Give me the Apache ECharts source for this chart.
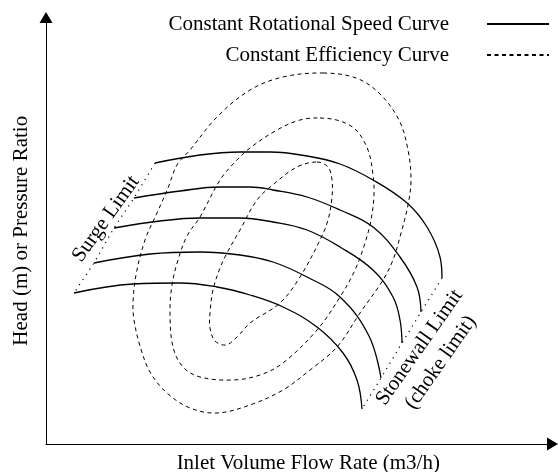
<!DOCTYPE html>
<html><head><meta charset="utf-8">
<script src="https://cdn.jsdelivr.net/npm/echarts@6/dist/echarts.min.js"></script>
<style>html,body{margin:0;padding:0;background:#fff}#c{width:558px;height:472px}</style>
</head><body><div id="c"></div>
<script>
// ---- data (x: inlet volume flow, y: head; schematic units) ----
const legendNames = ['Constant Rotational Speed Curve', 'Constant Efficiency Curve'];
const xTitle = 'Inlet Volume Flow Rate (m3/h)';
const yTitle = 'Head (m) or Pressure Ratio';
const surgeLabel = 'Surge Limit';
const stonewallLabel = 'Stonewall Limit\n(choke limit)';

const speed1 = [[109,281],[154,289],[194,292],[224,292],[261,288],[294,280],[327,264],[361,241],[381,217],[394,187],[396,166]];
const speed2 = [[88,246],[134,253],[174,257],[204,257],[227,254],[261,247],[294,234],[327,217],[354,187],[371,157],[375,132]];
const speed3 = [[68,216],[114,223],[154,226],[194,226],[227,222],[261,214],[294,197],[327,174],[347,147],[354,124],[356,101]];
const speed4 = [[48,181],[104,190],[154,192],[194,189],[227,182],[261,167],[294,147],[323,108],[335,66]];
const speed5 = [[28,151],[87,160],[134,161],[171,157],[204,149],[237,137],[271,117],[297,91],[311,64],[316,35]];

const effOuter = [[277,371],[310,366],[333,351],[353,324],[362,294],[365,264],[362,239],[354,207],[347,184],[337,164],[314,131],[291,97],[264,74],[237,54],[204,39],[171,31],[144,36],[121,51],[104,72],[94,98],[88,124],[87,141],[90,169],[99,204],[111,231],[122,256],[131,279],[144,294],[171,327],[204,354],[237,367]];
const effMiddle = [[274,326],[294,323],[310,314],[322,294],[327,269],[328,249],[325,224],[319,201],[309,174],[294,147],[271,114],[237,81],[214,69],[187,64],[154,67],[137,77],[127,97],[124,131],[126,159],[132,184],[141,208],[154,227],[174,264],[189,282],[204,296],[231,314],[254,324]];
const effInner = [[271,282],[282,277],[286,264],[286,247],[282,224],[274,204],[254,167],[234,141],[204,121],[191,107],[180,99],[169,103],[164,116],[164,131],[167,154],[174,176],[181,191],[194,214],[211,244],[229,261],[251,277]];

const speedCurves = [speed1, speed2, speed3, speed4, speed5];
const effLoops = [effOuter, effMiddle, effInner];

// ---- chart ----
const FONT = '"Liberation Serif", "Times New Roman", serif';
const chart = echarts.init(document.getElementById('c'), null, {renderer: 'canvas'});
const surgeLine = speedCurves.map(c => c[0]);
const stonewallLine = speedCurves.map(c => c[c.length - 1]);

const series = speedCurves.map(c => ({
  type: 'line', name: legendNames[0], data: c, smooth: 0.4, symbol: 'none',
  itemStyle: {color: '#000', opacity: 0},
  lineStyle: {color: '#000', width: 1.3}, silent: true
}));
series.push({
  type: 'line', name: legendNames[1], data: [], symbol: 'none',
  itemStyle: {color: '#000', opacity: 0},
  lineStyle: {color: '#000', width: 1, type: [4, 3.5]}
});
series.push({
  type: 'custom', coordinateSystem: 'cartesian2d', silent: true,
  data: effLoops.map(l => l[0]),
  renderItem: function (params, api) {
    const pts = effLoops[params.dataIndex].map(p => api.coord(p));
    return {type: 'polygon', shape: {points: pts, smooth: 0.35},
      style: {fill: 'none', stroke: '#000', lineWidth: 1, lineDash: [4, 3.5]}};
  }
});
series.push({type: 'line', data: surgeLine, symbol: 'none', silent: true,
  lineStyle: {color: '#000', width: 1.2, type: [1.2, 5]}});
series.push({type: 'line', data: stonewallLine, symbol: 'none', silent: true,
  lineStyle: {color: '#000', width: 1.2, type: [1.2, 5]}});

chart.setOption({
  animation: false,
  grid: {left: 46, right: 5.5, top: 17.5, bottom: 28, containLabel: false, outerBoundsMode: 'none'},
  legend: {
    data: legendNames, orient: 'vertical', align: 'right', right: 3, top: 8,
    itemWidth: 62, itemHeight: 12, itemGap: 9, selectedMode: false,
    itemStyle: {opacity: 0},
    textStyle: {fontFamily: FONT, fontSize: 21, color: '#000', lineHeight: 22, padding: [0, 33, 0, 0]}
  },
  xAxis: {
    type: 'value', min: 0, max: 506.5,
    name: xTitle, nameLocation: 'middle', nameGap: 8.5,
    nameTextStyle: {fontFamily: FONT, fontSize: 21, color: '#000', verticalAlign: 'top', padding: [0, 0, 0, 18]},
    axisLine: {lineStyle: {color: '#000', width: 1}, symbol: ['none', 'triangle'], symbolSize: [13, 11]},
    axisTick: {show: false}, axisLabel: {show: false}, splitLine: {show: false}
  },
  yAxis: {
    type: 'value', min: 0, max: 426.5,
    name: yTitle, nameLocation: 'middle', nameGap: 14,
    nameTextStyle: {fontFamily: FONT, fontSize: 21, color: '#000'},
    axisLine: {lineStyle: {color: '#000', width: 1}, symbol: ['none', 'triangle'], symbolSize: [13, 11]},
    axisTick: {show: false}, axisLabel: {show: false}, splitLine: {show: false}
  },
  graphic: [
    {type: 'text', x: 106, y: 219, rotation: 54.5 * Math.PI / 180, silent: true,
      style: {text: surgeLabel, font: '21px ' + FONT, fill: '#000', align: 'center', verticalAlign: 'middle'}},
    {type: 'text', x: 430, y: 355, rotation: 55 * Math.PI / 180, silent: true,
      style: {text: stonewallLabel, font: '21px ' + FONT, fill: '#000', align: 'center', verticalAlign: 'middle', lineHeight: 26}}
  ],
  series: series
});
</script></body></html>
